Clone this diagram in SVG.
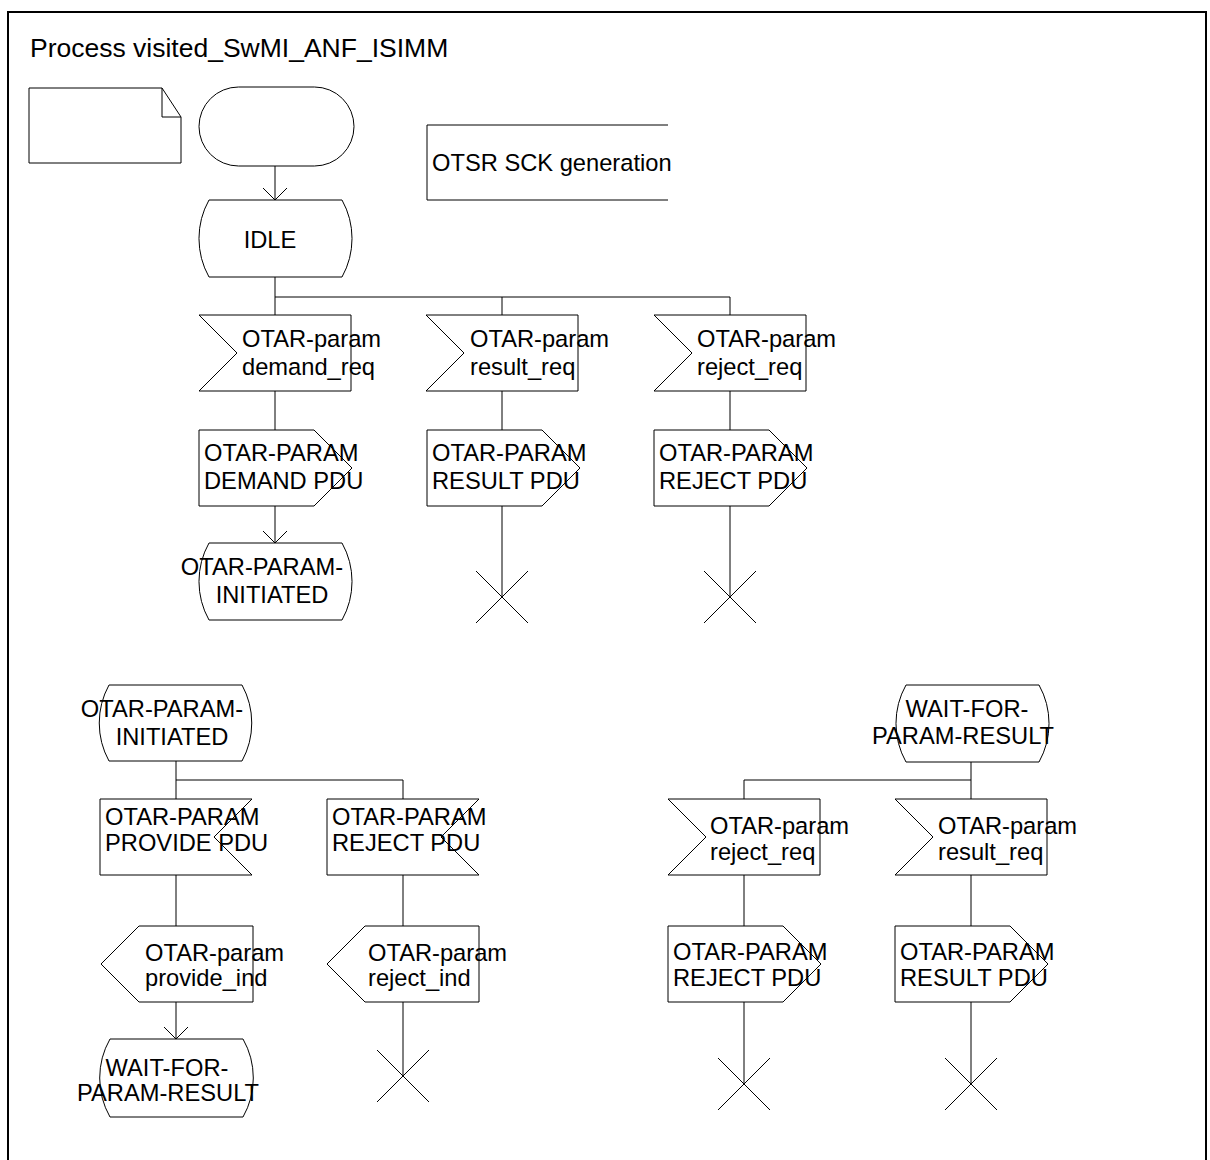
<svg xmlns="http://www.w3.org/2000/svg" width="1210" height="1160" viewBox="0 0 1210 1160">
<defs>
<style>
.s{fill:#fff;stroke:#000;stroke-width:1}
.c{fill:none;stroke:#000;stroke-width:1}
.t{font-family:"Liberation Sans",Arial,sans-serif;font-size:23.7px;fill:#000}
.m{text-anchor:middle}
</style>
<marker id="arr" markerUnits="userSpaceOnUse" markerWidth="14" markerHeight="26" viewBox="0 0 14 26" refX="12.5" refY="13" orient="auto">
<path d="M0.5,1 L12.5,13 L0.5,25" fill="none" stroke="#000" stroke-width="1"/>
</marker>
</defs>
<rect x="0" y="0" width="1210" height="1160" fill="#fff"/>
<rect x="8" y="12" width="1198" height="1170" fill="none" stroke="#000" stroke-width="2"/>
<text x="30" y="57" class="t" style="font-size:26.5px">Process visited_SwMI_ANF_ISIMM</text>

<g id="connectors">
<path class="c" d="M275,166 V200" marker-end="url(#arr)"/>
<path class="c" d="M275,277 V315 M275,297 H730 V315 M502,297 V315"/>
<path class="c" d="M275,391 V430 M502,391 V430 M730,391 V430"/>
<path class="c" d="M275,506 V543" marker-end="url(#arr)"/>
<path class="c" d="M502,506 V597 M730,506 V597"/>
<path class="c" d="M176,761 V799 M176,780 H403 V799"/>
<path class="c" d="M176,875 V926 M403,875 V926"/>
<path class="c" d="M176,1002 V1039" marker-end="url(#arr)"/>
<path class="c" d="M403,1002 V1076"/>
<path class="c" d="M971,762 V799 M971,780 H744 V799"/>
<path class="c" d="M744,875 V926 M971,875 V926"/>
<path class="c" d="M744,1002 V1084 M971,1002 V1084"/>
</g>

<g id="note">
<path class="s" d="M29,88 H162 L181,117 V163 H29 Z"/>
<path class="c" d="M162,88 V117 H181"/>
</g>

<g id="start">
<rect class="s" x="199" y="87" width="155" height="79" rx="39.5" ry="39.5"/>
</g>

<g id="comment">
<path class="c" d="M668,125 H427 V200 H668"/>
<text class="t" x="432" y="171">OTSR SCK generation</text>
</g>

<g id="state_idle">
<path class="s" d="M209,200 H342 A79,79 0 0 1 342,277 H209 A79,79 0 0 1 209,200 Z"/>
<text class="t m" x="270" y="248">IDLE</text>
</g>

<g id="in_demand_req">
<path class="s" d="M199,315 H351 V391 H199 L237,353 Z"/>
<text class="t" x="242" y="347">OTAR-param</text>
<text class="t" x="242" y="375">demand_req</text>
</g>
<g id="in_result_req">
<path class="s" d="M426,315 H578 V391 H426 L464,353 Z"/>
<text class="t" x="470" y="347">OTAR-param</text>
<text class="t" x="470" y="375">result_req</text>
</g>
<g id="in_reject_req">
<path class="s" d="M654,315 H806 V391 H654 L692,353 Z"/>
<text class="t" x="697" y="347">OTAR-param</text>
<text class="t" x="697" y="375">reject_req</text>
</g>

<g id="out_demand_pdu">
<path class="s" d="M199,430 H314 L352,468 L314,506 H199 Z"/>
<text class="t" x="204" y="461">OTAR-PARAM</text>
<text class="t" x="204" y="489">DEMAND PDU</text>
</g>
<g id="out_result_pdu">
<path class="s" d="M427,430 H542 L580,468 L542,506 H427 Z"/>
<text class="t" x="432" y="461">OTAR-PARAM</text>
<text class="t" x="432" y="489">RESULT PDU</text>
</g>
<g id="out_reject_pdu">
<path class="s" d="M654,430 H769 L807,468 L769,506 H654 Z"/>
<text class="t" x="659" y="461">OTAR-PARAM</text>
<text class="t" x="659" y="489">REJECT PDU</text>
</g>

<g id="state_initiated_1">
<path class="s" d="M209,543 H342 A79,79 0 0 1 342,620 H209 A79,79 0 0 1 209,543 Z"/>
<text class="t m" x="262" y="575">OTAR-PARAM-</text>
<text class="t m" x="272" y="603">INITIATED</text>
</g>

<g id="stop_1"><path class="c" d="M476,571 L528,623 M528,571 L476,623"/></g>
<g id="stop_2"><path class="c" d="M704,571 L756,623 M756,571 L704,623"/></g>

<g id="state_initiated_2">
<path class="s" d="M109,685 H242 A79,79 0 0 1 242,761 H109 A79,79 0 0 1 109,685 Z"/>
<text class="t m" x="162" y="717">OTAR-PARAM-</text>
<text class="t m" x="172" y="745">INITIATED</text>
</g>

<g id="in_provide_pdu">
<path class="s" d="M100,799 H252 L214,837 L252,875 H100 Z"/>
<text class="t" x="105" y="825">OTAR-PARAM</text>
<text class="t" x="105" y="851">PROVIDE PDU</text>
</g>
<g id="in_reject_pdu">
<path class="s" d="M327,799 H479 L441,837 L479,875 H327 Z"/>
<text class="t" x="332" y="825">OTAR-PARAM</text>
<text class="t" x="332" y="851">REJECT PDU</text>
</g>

<g id="out_provide_ind">
<path class="s" d="M139,926 H253 V1002 H139 L101,964 Z"/>
<text class="t" x="145" y="961">OTAR-param</text>
<text class="t" x="145" y="986">provide_ind</text>
</g>
<g id="out_reject_ind">
<path class="s" d="M365,926 H479 V1002 H365 L327,964 Z"/>
<text class="t" x="368" y="961">OTAR-param</text>
<text class="t" x="368" y="986">reject_ind</text>
</g>

<g id="state_wait_1">
<path class="s" d="M110,1039 H243 A79,79 0 0 1 243,1117 H110 A79,79 0 0 1 110,1039 Z"/>
<text class="t m" x="167" y="1076">WAIT-FOR-</text>
<text class="t m" x="168" y="1101">PARAM-RESULT</text>
</g>

<g id="stop_3"><path class="c" d="M377,1050 L429,1102 M429,1050 L377,1102"/></g>

<g id="state_wait_2">
<path class="s" d="M906,685 H1039 A79,79 0 0 1 1039,762 H906 A79,79 0 0 1 906,685 Z"/>
<text class="t m" x="967" y="717">WAIT-FOR-</text>
<text class="t m" x="963" y="744">PARAM-RESULT</text>
</g>

<g id="in_reject_req_2">
<path class="s" d="M668,799 H820 V875 H668 L706,837 Z"/>
<text class="t" x="710" y="834">OTAR-param</text>
<text class="t" x="710" y="860">reject_req</text>
</g>
<g id="in_result_req_2">
<path class="s" d="M895,799 H1047 V875 H895 L933,837 Z"/>
<text class="t" x="938" y="834">OTAR-param</text>
<text class="t" x="938" y="860">result_req</text>
</g>

<g id="out_reject_pdu_2">
<path class="s" d="M668,926 H783 L821,964 L783,1002 H668 Z"/>
<text class="t" x="673" y="960">OTAR-PARAM</text>
<text class="t" x="673" y="986">REJECT PDU</text>
</g>
<g id="out_result_pdu_2">
<path class="s" d="M895,926 H1010 L1048,964 L1010,1002 H895 Z"/>
<text class="t" x="900" y="960">OTAR-PARAM</text>
<text class="t" x="900" y="986">RESULT PDU</text>
</g>

<g id="stop_4"><path class="c" d="M718,1058 L770,1110 M770,1058 L718,1110"/></g>
<g id="stop_5"><path class="c" d="M945,1058 L997,1110 M997,1058 L945,1110"/></g>
</svg>
